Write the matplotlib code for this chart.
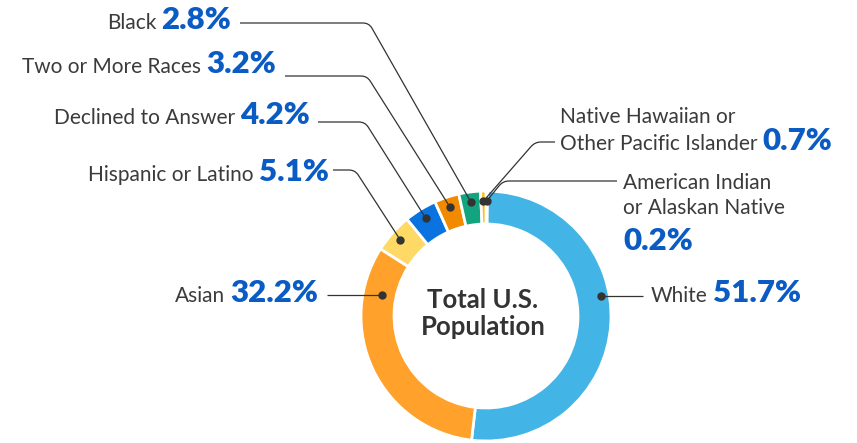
import matplotlib
matplotlib.use("Agg")
import matplotlib.pyplot as plt
from matplotlib.path import Path
from matplotlib.patches import PathPatch
import numpy as np

# Population share by race / ethnicity (clockwise from 12 o'clock)
categories = ["American Indian\nor Alaskan Native", "White", "Asian", "Hispanic or Latino",
              "Declined to Answer", "Two or More Races", "Black",
              "Native Hawaiian or\nOther Pacific Islander"]
shares = [0.2, 51.7, 32.2, 5.1, 4.2, 3.2, 2.8, 0.7]
pct_labels = ["0.2%", "51.7%", "32.2%", "5.1%", "4.2%", "3.2%", "2.8%", "0.7%"]
colors = ["#8FD0EE", "#42B4E6", "#FFA12B", "#FFD966", "#0B73E0", "#F28A00", "#12A47E", "#FDBE25"]

W_PX, H_PX = 857, 443
fig = plt.figure(figsize=(W_PX / 100, H_PX / 100), dpi=100)
ax = fig.add_axes([0, 0, 1, 1])

GRAY = "#3B3B3B"
BLUE = "#0A5BC4"
LINE = "#333333"
FONT = "Lato"


def Y(row):
    """Convert a pixel row (top = 0) to axis y."""
    return H_PX - row


cx, cy = 486, Y(316)
R, RING = 125, 33

ax.pie(shares, colors=colors, startangle=90, counterclock=False,
       radius=R, center=(cx, cy),
       wedgeprops=dict(width=RING, edgecolor="white", linewidth=2))
ax.set_xlim(0, W_PX)
ax.set_ylim(0, H_PX)
ax.set_aspect("equal")
ax.axis("off")

# anchor dots at each wedge's mid-angle
frac = np.array(shares) / np.sum(shares)
mid = np.cumsum(frac) - frac / 2
theta = np.deg2rad(90 - 360 * mid)
r_dot = 115
dots = [(cx + r_dot * np.cos(t), cy + r_dot * np.sin(t)) for t in theta]


def leader(points, rc=6):
    """Polyline with slightly rounded corners."""
    verts = [points[0]]
    codes = [Path.MOVETO]
    for i in range(1, len(points) - 1):
        p0, p1, p2 = map(np.array, points[i - 1:i + 2])
        a = p1 - (p1 - p0) / np.linalg.norm(p1 - p0) * rc
        b = p1 + (p2 - p1) / np.linalg.norm(p2 - p1) * rc
        verts += [tuple(a), tuple(p1), tuple(b)]
        codes += [Path.LINETO, Path.CURVE3, Path.CURVE3]
    verts.append(points[-1])
    codes.append(Path.LINETO)
    ax.add_patch(PathPatch(Path(verts, codes), fill=False, edgecolor=LINE,
                           linewidth=0.9, capstyle="butt", zorder=3))


# leader routes: label end -> corner -> dot
routes = {
    6: [(240, Y(23)), (369, Y(23))],
    5: [(285, Y(76)), (367, Y(76))],
    4: [(318, Y(122)), (365, Y(122))],
    3: [(333, Y(170)), (355, Y(170))],
    2: [(327, Y(295))],
    1: [(643, Y(296))],
    7: [(555, Y(142)), (535, Y(142))],
    0: [(617, Y(181)), (503, Y(181))],
}
for i, pts in routes.items():
    dx, dy = dots[i]
    if i in (1, 2):
        leader([pts[0], (dx, pts[0][1])])
        ax.plot([dx], [pts[0][1]], "o", color=LINE, markersize=5, zorder=4)
    else:
        leader(pts + [(dx, dy)])
        ax.plot([dx], [dy], "o", color=LINE, markersize=5, zorder=4)

fig.canvas.draw()
renderer = fig.canvas.get_renderer()

LABEL_KW = dict(fontsize=15, color=GRAY, family=FONT, va="baseline")
PCT_KW = dict(fontsize=22.5, color=BLUE, family=FONT, weight="heavy", va="baseline")
GAP = 5


def left_label(i, x_end, row):
    p = ax.text(x_end, Y(row), pct_labels[i], ha="right", **PCT_KW)
    w = p.get_window_extent(renderer).width
    ax.text(x_end - w - GAP, Y(row), categories[i], ha="right", **LABEL_KW)


def right_label(text, x0, row, pct=None):
    t = ax.text(x0, Y(row), text, ha="left", **LABEL_KW)
    if pct is not None:
        w = t.get_window_extent(renderer).width
        ax.text(x0 + w + GAP, Y(row), pct, ha="left", **PCT_KW)


left_label(6, 231, 29)
left_label(5, 276, 73)
left_label(4, 310, 124)
left_label(3, 329, 181)
left_label(2, 318, 302)

right_label("White", 651, 302, pct_labels[1])
right_label("Native Hawaiian or", 560, 123)
right_label("Other Pacific Islander", 560, 150, pct_labels[7])
right_label("American Indian", 623, 189)
right_label("or Alaskan Native", 623, 214)
ax.text(623, Y(250), pct_labels[0], ha="left", **PCT_KW)

# centre caption
ax.text(483, Y(308), "Total U.S.", ha="center", va="baseline", fontsize=18.5,
        weight="bold", color="#333333", family=FONT)
ax.text(483, Y(335), "Population", ha="center", va="baseline", fontsize=18.5,
        weight="bold", color="#333333", family=FONT)

fig.savefig("out.png", dpi=100)
